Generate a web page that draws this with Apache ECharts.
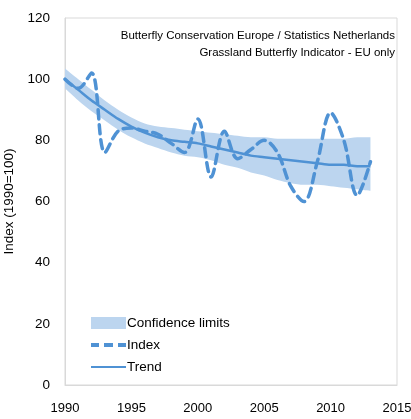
<!DOCTYPE html>
<html>
<head>
<meta charset="utf-8">
<script src="https://cdn.jsdelivr.net/npm/echarts@6/dist/echarts.min.js"></script>
<style>
html,body{margin:0;padding:0;background:#fff;}
#chart{width:411px;height:419px;}
</style>
</head>
<body>
<div id="chart"></div>
<script>
var categories = ['1990','1991','1992','1993','1994','1995','1996','1997','1998','1999','2000','2001','2002','2003','2004','2005','2006','2007','2008','2009','2010','2011','2012','2013','2014','2015'];
var indexValues = [100,97,102,76,83,84,83,82,79,76,87,68,83,74,77,80,76,65,60,73,89,80,62,73];
var trendValues = [100,96.5,93,90,87,84.5,82.5,81,80,79.5,79,78,77,76,75,74.5,74,73.5,73,72.5,72,72,71.5,71.5];
var upperValues = [103.5,100,96.5,93,90,87.5,85.5,84.5,84,83.5,83,82.5,82,81.5,81,81,80.5,80.5,80.5,80.5,80.5,80.5,81,81];
var lowerValues = [97,93,89.5,86.5,83.5,81,79,77.5,76,75,74.5,73.5,72,71,69.5,68.5,67,66,65.5,65.5,65,64.5,64,63.5];
var yTicks = [0,20,40,60,80,100,120];
var titleLines = ['Butterfly Conservation Europe / Statistics Netherlands','Grassland Butterfly Indicator - EU only'];

var FONT = 'Liberation Sans';
var LINE = '#4f92d4';
var BAND = '#bcd5ef';

var bandWidth = upperValues.map(function(u,i){ return u - lowerValues[i]; });

var chart = echarts.init(document.getElementById('chart'), null, {renderer:'canvas'});
chart.setOption({
  animation:false,
  textStyle:{fontFamily:FONT},
  title:{
    text: titleLines.join('\n'),
    left: 390, top: 22, textAlign:'right',
    textStyle:{fontFamily:FONT, fontSize:11.5, fontWeight:'normal', color:'#000', lineHeight:17}
  },
  grid:{left:65, right:14, top:18, bottom:34, show:true, borderColor:'#d9d9d9', borderWidth:1,
        containLabel:false, outerBoundsMode:'none'},
  xAxis:{
    type:'category', data:categories, boundaryGap:false,
    axisLine:{show:true, lineStyle:{color:'#d9d9d9'}},
    axisTick:{show:false}, splitLine:{show:false},
    axisLabel:{color:'#000', fontSize:13, fontFamily:FONT, margin:17, interval:4}
  },
  yAxis:{
    type:'value', min:yTicks[0], max:yTicks[yTicks.length-1], interval:20,
    name:'Index (1990=100)', nameLocation:'middle', nameGap:40,
    nameTextStyle:{color:'#000', fontSize:13.5, fontFamily:FONT},
    axisLine:{show:true, lineStyle:{color:'#d9d9d9'}},
    axisTick:{show:false}, splitLine:{show:false},
    axisLabel:{color:'#000', fontSize:13.5, fontFamily:FONT, margin:15}
  },
  legend:{
    orient:'vertical', left:86, top:311, itemGap:8, itemWidth:35, itemHeight:12,
    symbolKeepAspect:true,
    textStyle:{color:'#000', fontSize:13.5, fontFamily:FONT, padding:[0,0,0,-4]},
    data:[
      {name:'Confidence limits', icon:'rect', itemStyle:{color:BAND}},
      {name:'Index', icon:'path://M0,0h8v4h-8z M13,0h9v4h-9z M27,0h8v4h-8z', itemStyle:{color:LINE, borderWidth:0}},
      {name:'Trend', icon:'path://M0,0h35v2h-35z', itemStyle:{color:LINE, borderWidth:0}}
    ]
  },
  series:[
    {name:'lower', type:'line', stack:'ci', data:lowerValues, symbol:'none', smooth:0.3,
     lineStyle:{opacity:0}, silent:true, z:1},
    {name:'Confidence limits', type:'line', stack:'ci', data:bandWidth, symbol:'none', smooth:0.3,
     lineStyle:{opacity:0, color:BAND}, itemStyle:{color:BAND}, areaStyle:{color:BAND, opacity:1}, z:1},
    {name:'Index', type:'line', data:indexValues, symbol:'none', smooth:0.35,
     lineStyle:{color:LINE, width:3.5, type:[9,6], cap:'round'}, itemStyle:{color:LINE}, z:3},
    {name:'Trend', type:'line', data:trendValues, symbol:'none', smooth:0.3,
     lineStyle:{color:LINE, width:2.5}, itemStyle:{color:LINE}, z:2}
  ]
});
</script>
</body>
</html>
